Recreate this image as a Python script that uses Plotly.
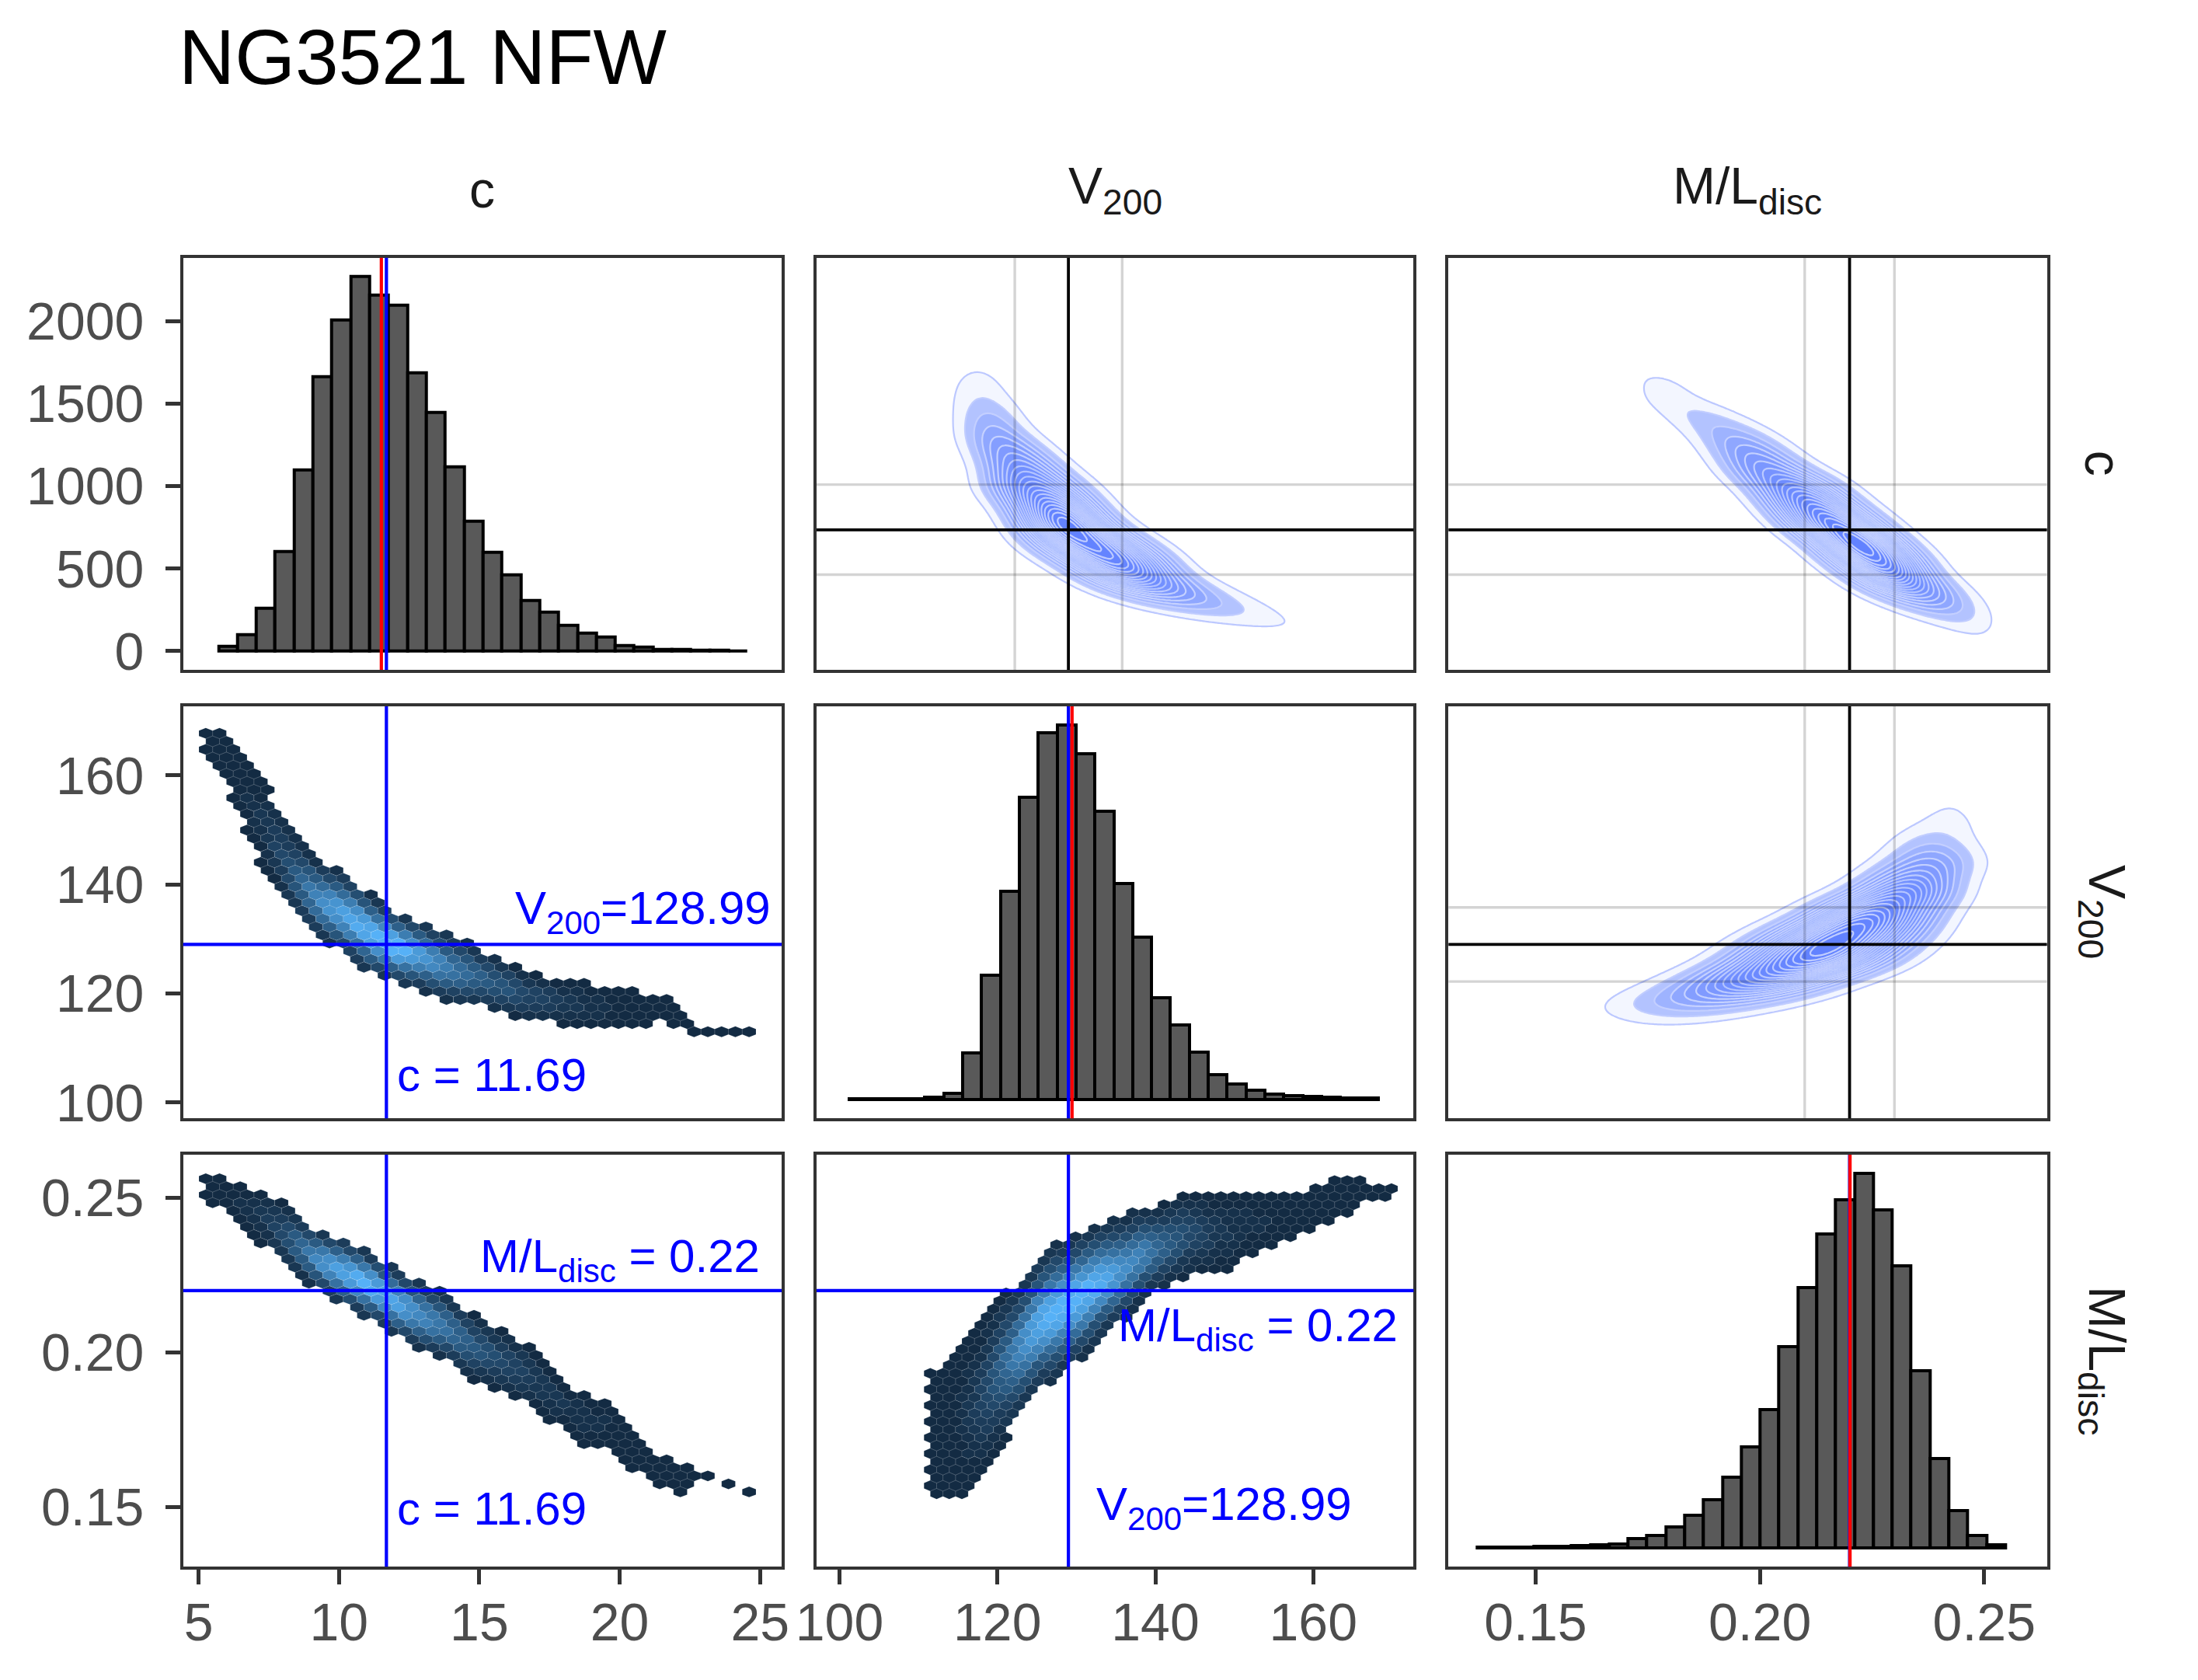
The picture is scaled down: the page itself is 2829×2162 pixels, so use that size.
import numpy as np
import plotly.graph_objects as go
from plotly.subplots import make_subplots

TITLE = "NG3521 NFW"
LABELS = ["c", "V<sub>200</sub>", "M/L<sub>disc</sub>"]

# marginal histograms: first bin edge, bin width, counts per bin
C_START, C_WIDTH = 5.71, 0.673
C_COUNTS = [30, 101, 261, 605, 1097, 1666, 2009, 2271, 2159, 2096, 1689, 1449, 1115, 786,
            599, 462, 306, 235, 155, 110, 84, 36, 25, 12, 9, 5, 4, 3]
V_START, V_WIDTH = 101.25, 2.392
V_COUNTS = [4, 4, 4, 6, 15, 46, 332, 882, 1473, 2141, 2598, 2652, 2449, 2040,
            1529, 1150, 722, 529, 336, 176, 110, 68, 42, 27, 21, 17, 12, 10]
ML_START, ML_WIDTH = 0.1370, 0.004205
ML_COUNTS = [4, 4, 7, 9, 11, 16, 20, 25, 63, 85, 141, 220, 325, 477,
             679, 930, 1351, 1750, 2112, 2341, 2516, 2269, 1895, 1189, 600, 253, 85, 22]

# quoted values (blue / black lines), red line on the diagonal, grey quantile lines
C_VAL, V_VAL, ML_VAL = 11.69, 128.99, 0.22
C_RED, V_RED, ML_RED = 11.51, 129.45, 0.2201
C_QUANT = [9.37, 14.03]
V_QUANT = [122.2, 135.8]
ML_QUANT = [0.210, 0.230]

# outline of the sample clouds: along the first parameter, upper / lower edge of the second
CV_C = [5.5, 6.5, 7.4, 8.3, 9.2, 10.2, 11.1, 12.0, 12.9, 13.9, 14.8, 15.7, 16.6, 17.6,
        18.5, 19.4, 20.3, 21.3, 22.2, 23.1, 24.8]
CV_V_HI = [169.3, 165.2, 158.5, 150.9, 145.0, 142.6, 139.0, 135.3, 133.6, 132.0, 129.3,
           127.2, 124.7, 123.1, 122.8, 121.8, 121.5, 120.1, 118.5, 113.0, 114.2]
CV_V_LO = [162.3, 151.7, 141.2, 134.2, 129.9, 126.4, 123.1, 121.8, 120.4, 117.4, 117.4,
           116.1, 114.7, 114.5, 113.1, 113.1, 113.1, 114.5, 113.1, 111.5, 113.2]

CM_C = [5.5, 6.5, 7.4, 8.3, 9.2, 10.2, 11.1, 12.0, 12.9, 13.9, 14.8, 15.7, 16.6, 17.6,
        18.5, 19.4, 20.3, 21.3, 22.2, 23.1, 24.8]
CM_ML_HI = [0.2587, 0.2554, 0.2533, 0.2478, 0.2408, 0.2375, 0.2326, 0.2283, 0.2239, 0.2196,
            0.2130, 0.2087, 0.2043, 0.1973, 0.1891, 0.1859, 0.1783, 0.1685, 0.1652, 0.1610, 0.1550]
CM_ML_LO = [0.2467, 0.2418, 0.2326, 0.2250, 0.2196, 0.2141, 0.2103, 0.2043, 0.2000, 0.1957,
            0.1902, 0.1870, 0.1826, 0.1761, 0.1696, 0.1696, 0.1620, 0.1565, 0.1522, 0.1590, 0.1535]

VM_V = [112.3, 114.9, 117.5, 120.2, 122.8, 125.4, 128.0, 130.7, 133.3, 135.9, 138.5, 141.2,
        143.8, 146.4, 149.0, 151.7, 154.3, 156.9, 159.5, 162.2, 164.8, 167.4, 169.5]
VM_ML_HI = [0.1951, 0.2043, 0.2098, 0.2196, 0.2239, 0.2326, 0.2370, 0.2402, 0.2424, 0.2446,
            0.2478, 0.2489, 0.2533, 0.2522, 0.2522, 0.2543, 0.2511, 0.2522, 0.2533, 0.2565,
            0.2576, 0.2549, 0.2549]
VM_ML_LO = [0.1516, 0.1522, 0.1543, 0.1674, 0.1783, 0.1870, 0.1913, 0.1967, 0.2043, 0.2087,
            0.2163, 0.2196, 0.2228, 0.2250, 0.2250, 0.2304, 0.2326, 0.2359, 0.2391, 0.2413,
            0.2424, 0.2495, 0.2495]

COUNT_TICKS = [0, 500, 1000, 1500, 2000]
C_TICKS = [5, 10, 15, 20, 25]
V_TICKS = [100, 120, 140, 160]
ML_TICKS = [0.15, 0.20, 0.25]

C_RANGE = [4.45, 25.77]
V_RANGE = [97.1, 172.7]
ML_RANGE = [0.1306, 0.264]

W, H = 2829, 2162
XDOM = [[0.0719, 0.3478], [0.3639, 0.6391], [0.6552, 0.9311]]
YDOM = [[0.6019, 0.8491], [0.3328, 0.5800], [0.0638, 0.3110]]
FONT = "Liberation Sans, Arial, Helvetica, sans-serif"
NLEV = 24

FILL_SCALE = [[0, "rgba(255,255,255,0)"], [0.045, "rgba(255,255,255,0)"],
              [0.05, "rgb(212,221,255)"], [0.11, "rgb(168,187,255)"],
              [0.22, "rgb(134,159,255)"], [0.45, "rgb(112,142,255)"], [1, "rgb(98,130,255)"]]
LINE_SCALE = [[0, "rgba(188,200,255,1)"], [0.15, "rgba(200,211,255,0.95)"],
              [0.4, "rgba(232,238,255,0.55)"], [1, "rgba(255,255,255,0.6)"]]


def centers(start, width, counts):
    return start + width * (np.arange(len(counts)) + 0.5)


def joint(xg, yg, start, width, counts, gx, hi, lo, smooth):
    hi, lo = np.asarray(hi), np.asarray(lo)
    px = np.interp(xg, centers(start, width, counts), counts)
    m = np.interp(xg, gx, (hi + lo) / 2)
    s = np.interp(xg, gx, (hi - lo) / 5)
    s = np.sqrt(s ** 2 + smooth ** 2)
    return px / s * np.exp(-0.5 * ((np.asarray(yg)[:, None] - m) / s) ** 2)


def blur(z, n):
    k = np.exp(-0.5 * (np.arange(-3 * n, 3 * n + 1) / n) ** 2)
    k /= k.sum()
    z = np.apply_along_axis(lambda v: np.convolve(v, k, mode="same"), 0, z)
    return np.apply_along_axis(lambda v: np.convolve(v, k, mode="same"), 1, z)


def hex_cells(start, width, counts, gx, hi, lo, dx, dy):
    gx, hi, lo = np.asarray(gx), np.asarray(hi), np.asarray(lo)
    y0 = lo.min() - dy
    cells = []
    for k in range(int((hi.max() - y0) / dy) + 3):
        yc = y0 + k * dy
        for xc in np.arange(gx[0] - dx, gx[-1] + dx, dx) + (dx / 2 if k % 2 else 0):
            if xc < gx[0] - dx / 2 or xc > gx[-1] + dx / 2:
                continue
            top = np.interp(xc, gx, hi)
            bot = np.interp(xc, gx, lo)
            half = max((top - bot) / 2, 0.8 * dy)
            if abs(yc - (top + bot) / 2) <= half - 0.3 * dy:
                n = joint([xc], [yc], start, width, counts, gx, hi, lo, dy / 2)[0, 0]
                cells.append((xc, yc, n))
    return cells


def hex_color(t):
    lo = np.array([0x13, 0x2B, 0x43])
    hi = np.array([0x56, 0xB1, 0xF7])
    r, g, b = (lo + (hi - lo) * t).round().astype(int)
    return f"rgb({r},{g},{b})"


def add_hexes(fig, row, col, cells, dx, dy):
    n = np.array([c[2] for c in cells])
    lev = np.minimum((n / n.max() * NLEV).astype(int), NLEV - 1)
    for L in range(NLEV):
        xs, ys = [], []
        for (xc, yc, _), l in zip(cells, lev):
            if l != L:
                continue
            xs += [xc, xc + dx / 2, xc + dx / 2, xc, xc - dx / 2, xc - dx / 2, xc, None]
            ys += [yc + 2 * dy / 3, yc + dy / 3, yc - dy / 3, yc - 2 * dy / 3,
                   yc - dy / 3, yc + dy / 3, yc + 2 * dy / 3, None]
        if xs:
            fig.add_trace(go.Scatter(x=xs, y=ys, mode="lines", fill="toself",
                                     fillcolor=hex_color(L / (NLEV - 1)),
                                     line=dict(color="rgba(255,255,255,0.12)", width=1),
                                     hoverinfo="skip", showlegend=False), row=row, col=col)


def add_contour(fig, row, col, xg, yg, z):
    z = blur(z, 5)
    zmax = z.max()
    lv = dict(start=0.04 * zmax, end=0.96 * zmax, size=0.92 * zmax / 20)
    fig.add_trace(go.Contour(x=xg, y=yg, z=z, zmin=0, zmax=zmax, autocontour=False,
                             contours=dict(coloring="fill", **lv), colorscale=FILL_SCALE,
                             line=dict(width=0), showscale=False, hoverinfo="skip"),
                  row=row, col=col)
    fig.add_trace(go.Contour(x=xg, y=yg, z=z, zmin=0, zmax=zmax, autocontour=False,
                             contours=dict(coloring="lines", **lv), colorscale=LINE_SCALE,
                             line=dict(width=2.2), showscale=False, hoverinfo="skip"),
                  row=row, col=col)


def add_hist(fig, row, col, start, width, counts):
    fig.add_trace(go.Bar(x=centers(start, width, counts), y=counts, width=width,
                         marker=dict(color="#595959", line=dict(color="black", width=4)),
                         hoverinfo="skip", showlegend=False), row=row, col=col)


def aid(row, col):
    k = (row - 1) * 3 + col
    return "" if k == 1 else str(k)


def vline(fig, row, col, x, color, width=4.2):
    a = aid(row, col)
    fig.add_shape(type="line", xref="x" + a, yref="y" + a + " domain", x0=x, x1=x, y0=0, y1=1,
                  line=dict(color=color, width=width))


def hline(fig, row, col, y, color, width=4.2):
    a = aid(row, col)
    fig.add_shape(type="line", xref="x" + a + " domain", yref="y" + a, x0=0, x1=1, y0=y, y1=y,
                  line=dict(color=color, width=width))


def label(fig, row, col, x, y, text, xanchor, yanchor):
    a = aid(row, col)
    fig.add_annotation(xref="x" + a, yref="y" + a, x=x, y=y, text=text, showarrow=False,
                       xanchor=xanchor, yanchor=yanchor,
                       font=dict(family=FONT, size=60, color="blue"))


fig = make_subplots(rows=3, cols=3)

# diagonal histograms
add_hist(fig, 1, 1, C_START, C_WIDTH, C_COUNTS)
add_hist(fig, 2, 2, V_START, V_WIDTH, V_COUNTS)
add_hist(fig, 3, 3, ML_START, ML_WIDTH, ML_COUNTS)

# lower panels: hexbin clouds
add_hexes(fig, 2, 1, hex_cells(C_START, C_WIDTH, C_COUNTS, CV_C, CV_V_HI, CV_V_LO, 0.49, 1.48), 0.49, 1.48)
add_hexes(fig, 3, 1, hex_cells(C_START, C_WIDTH, C_COUNTS, CM_C, CM_ML_HI, CM_ML_LO, 0.49, 0.0026), 0.49, 0.0026)
add_hexes(fig, 3, 2, hex_cells(V_START, V_WIDTH, V_COUNTS, VM_V, VM_ML_HI, VM_ML_LO, 1.6, 0.0026), 1.6, 0.0026)

# upper panels: density contours
cg = np.linspace(C_RANGE[0], C_RANGE[1], 220)
vg = np.linspace(V_RANGE[0], V_RANGE[1], 220)
mg = np.linspace(ML_RANGE[0], ML_RANGE[1], 220)
add_contour(fig, 1, 2, vg, cg, joint(cg, vg, C_START, C_WIDTH, C_COUNTS, CV_C, CV_V_HI, CV_V_LO, 1.3).T)
add_contour(fig, 1, 3, mg, cg, joint(cg, mg, C_START, C_WIDTH, C_COUNTS, CM_C, CM_ML_HI, CM_ML_LO, 0.0022).T)
add_contour(fig, 2, 3, mg, vg, joint(vg, mg, V_START, V_WIDTH, V_COUNTS, VM_V, VM_ML_HI, VM_ML_LO, 0.0022).T)

# reference lines
vline(fig, 1, 1, C_VAL, "blue"); vline(fig, 1, 1, C_RED, "red")
vline(fig, 2, 2, V_VAL, "blue"); vline(fig, 2, 2, V_RED, "red")
vline(fig, 3, 3, ML_VAL, "blue"); vline(fig, 3, 3, ML_RED, "red")

GREY = "rgba(0,0,0,0.17)"
for (r, c, xq, yq, xv, yv) in [(1, 2, V_QUANT, C_QUANT, V_VAL, C_VAL),
                               (1, 3, ML_QUANT, C_QUANT, ML_VAL, C_VAL),
                               (2, 3, ML_QUANT, V_QUANT, ML_VAL, V_VAL)]:
    for q in xq:
        vline(fig, r, c, q, GREY, 3.4)
    for q in yq:
        hline(fig, r, c, q, GREY, 3.4)
    vline(fig, r, c, xv, "black", 3.8)
    hline(fig, r, c, yv, "black", 3.8)

for (r, c, xv, yv) in [(2, 1, C_VAL, V_VAL), (3, 1, C_VAL, ML_VAL), (3, 2, V_VAL, ML_VAL)]:
    vline(fig, r, c, xv, "blue")
    hline(fig, r, c, yv, "blue")

v_text = f"V<sub>200</sub>={V_VAL}"
c_text = f"c = {C_VAL}"
ml_text = f"M/L<sub>disc</sub> = {ML_VAL:.2f}"
label(fig, 2, 1, 25.45, 129.4, v_text, "right", "bottom")
label(fig, 2, 1, 12.0, 105.0, c_text, "left", "middle")
label(fig, 3, 1, 25.05, 0.2200, ml_text, "right", "bottom")
label(fig, 3, 1, 12.0, 0.1493, c_text, "left", "middle")
label(fig, 3, 2, 170.9, 0.2176, ml_text, "right", "top")
label(fig, 3, 2, 132.3, 0.1498, v_text, "left", "middle")

# axes
tick_font = dict(family=FONT, size=68, color="#4D4D4D")
ranges = [C_RANGE, V_RANGE, ML_RANGE]
ticks = [C_TICKS, V_TICKS, ML_TICKS]
hist_max = [max(C_COUNTS), max(V_COUNTS), max(ML_COUNTS)]
for r in range(1, 4):
    for c in range(1, 4):
        a = aid(r, c)
        base = dict(showgrid=False, zeroline=False, showline=True, mirror=True,
                    linecolor="#333333", linewidth=3.5, ticks="", showticklabels=False,
                    tickfont=tick_font, tickcolor="#333333", tickwidth=4.5, ticklen=19)
        xa = dict(base, domain=XDOM[c - 1], range=ranges[c - 1], anchor="y" + a,
                  ticklabelstandoff=-9)
        if r == c:
            yr = [-0.05 * hist_max[r - 1], 1.05 * hist_max[r - 1]]
        else:
            yr = ranges[r - 1]
        ya = dict(base, domain=YDOM[r - 1], range=yr, anchor="x" + a, ticklabelstandoff=14)
        if r == 3:
            xa.update(ticks="outside", showticklabels=True, tickvals=ticks[c - 1])
            if c == 3:
                xa.update(tickformat=".2f")
        if c == 1:
            ya.update(ticks="outside", showticklabels=True,
                      tickvals=COUNT_TICKS if r == 1 else ticks[r - 1])
            if r == 3:
                ya.update(tickformat=".2f")
        fig.layout["xaxis" + a] = xa
        fig.layout["yaxis" + a] = ya

# strip labels and title
for i, lab in enumerate(LABELS):
    fig.add_annotation(xref="paper", yref="paper", x=sum(XDOM[i]) / 2, y=0.890, text=lab,
                       showarrow=False, xanchor="center", yanchor="middle",
                       font=dict(family=FONT, size=66, color="#1A1A1A"))
    fig.add_annotation(xref="paper", yref="paper", x=0.957, y=sum(YDOM[i]) / 2, text=lab,
                       showarrow=False, xanchor="center", yanchor="middle", textangle=90,
                       font=dict(family=FONT, size=66, color="#1A1A1A"))
fig.add_annotation(xref="paper", yref="paper", x=0.0693, y=0.9697, text=TITLE, showarrow=False,
                   xanchor="left", yanchor="middle", font=dict(family=FONT, size=100, color="black"))

fig.update_layout(width=W, height=H, autosize=False, margin=dict(l=0, r=0, t=0, b=0),
                  paper_bgcolor="white", plot_bgcolor="white", showlegend=False,
                  bargap=0)

fig.write_html("out.html")
